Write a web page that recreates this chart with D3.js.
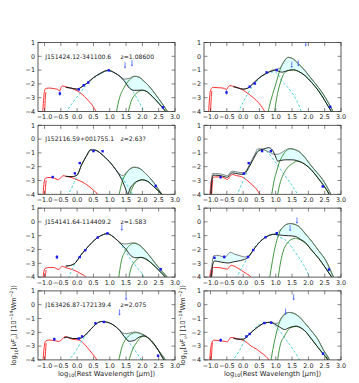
<!DOCTYPE html>
<html><head><meta charset="utf-8">
<script src="https://cdn.jsdelivr.net/npm/d3@7"></script>
<style>body{margin:0;background:#fff}svg{display:block}text{font-family:"DejaVu Sans",sans-serif;fill:#222}</style>
</head><body><svg id="c" width="359" height="383"></svg>
<script>
// ---------- data (panels in row-major order: L1,R1,L2,R2,L3,R3,L4,R4) ----------
const xTicks=[-1.0,-0.5,0.0,0.5,1.0,1.5,2.0,2.5,3.0];
const yTicks=[1,0,-1,-2,-3,-4];
const names=["J151424.12-341100.6",null,"J152116.59+001755.1",null,"J154141.64-114409.2",null,"J163426.87-172139.4",null];
const redshifts=["z=1.08600",null,"z=2.63?",null,"z=1.583",null,"z=2.075",null];

const redCurves=[
 [[-1.06,-4.2],[-1.03,-3.2],[-1.0,-2.5],[-0.95,-2.32],[-0.85,-2.3],[-0.7,-2.35],[-0.6,-2.4],[-0.53,-2.5],[-0.5,-2.3],[-0.45,-2.15],[-0.35,-2.2],[-0.2,-2.3],[0,-2.5],[0.15,-2.75],[0.3,-3.1],[0.45,-3.5],[0.6,-4.05],[0.65,-4.2]],
 [[-1.06,-4.2],[-1.03,-3.0],[-0.99,-2.4],[-0.92,-2.25],[-0.8,-2.27],[-0.62,-2.3],[-0.51,-2.4],[-0.45,-2.2],[-0.41,-2.13],[-0.26,-2.2],[-0.1,-2.33],[0,-2.45],[0.15,-2.7],[0.31,-3.0],[0.51,-3.47],[0.67,-4.05],[0.7,-4.2]],
 [[-1.05,-4.2],[-1.02,-3.3],[-0.98,-2.85],[-0.9,-2.78],[-0.75,-2.8],[-0.65,-2.88],[-0.58,-2.95],[-0.5,-2.8],[-0.43,-2.65],[-0.3,-2.72],[-0.15,-2.8],[0,-2.95],[0.15,-3.1],[0.29,-3.3],[0.5,-3.7],[0.62,-4.0],[0.66,-4.2]],
 [[-1.02,-4.2],[-0.99,-3.2],[-0.95,-2.85],[-0.85,-2.74],[-0.7,-2.74],[-0.55,-2.85],[-0.48,-2.93],[-0.4,-2.7],[-0.33,-2.56],[-0.2,-2.65],[-0.05,-2.72],[0.1,-2.95],[0.27,-3.3],[0.4,-3.6],[0.52,-4.05],[0.55,-4.2]],
 [[-1.05,-4.2],[-1.02,-3.6],[-0.97,-3.35],[-0.85,-3.3],[-0.72,-3.3],[-0.62,-3.4],[-0.56,-3.45],[-0.5,-3.3],[-0.46,-3.22],[-0.3,-3.35],[-0.15,-3.45],[0,-3.6],[0.15,-3.8],[0.3,-4.05],[0.35,-4.2]],
 [[-1.03,-4.2],[-1.0,-3.6],[-0.95,-3.35],[-0.88,-3.3],[-0.7,-3.32],[-0.55,-3.4],[-0.48,-3.42],[-0.42,-3.25],[-0.36,-3.15],[-0.2,-3.3],[-0.05,-3.52],[0.1,-3.75],[0.26,-4.05],[0.3,-4.2]],
 [[-1.05,-4.2],[-1.02,-3.3],[-0.97,-2.65],[-0.87,-2.56],[-0.7,-2.6],[-0.56,-2.66],[-0.46,-2.5],[-0.36,-2.3],[-0.25,-2.42],[-0.15,-2.5],[0.05,-2.56],[0.2,-2.8],[0.31,-3.1],[0.45,-3.5],[0.62,-4.05],[0.66,-4.2]],
 [[-1.03,-4.2],[-1.0,-3.3],[-0.95,-2.7],[-0.9,-2.57],[-0.69,-2.62],[-0.55,-2.66],[-0.48,-2.69],[-0.42,-2.48],[-0.38,-2.38],[-0.23,-2.43],[-0.02,-2.57],[0.12,-2.75],[0.24,-2.99],[0.4,-3.2],[0.55,-3.47],[0.7,-3.75],[0.8,-4.05],[0.83,-4.2]]
];
const redEdges=[
 [[-1.0,-4.2],[-0.98,-3.2],[-0.96,-2.6]],
 [[-1.0,-4.2],[-0.98,-3.1],[-0.96,-2.5]],
 [[-0.99,-4.2],[-0.97,-3.5],[-0.95,-3.0]],
 [[-0.97,-4.2],[-0.95,-3.4],[-0.93,-2.95]],
 [[-0.99,-4.2],[-0.97,-3.8],[-0.95,-3.5]],
 [[-0.98,-4.2],[-0.96,-3.8],[-0.94,-3.5]],
 [[-0.99,-4.2],[-0.97,-3.4],[-0.95,-2.8]],
 [[-0.98,-4.2],[-0.96,-3.3],[-0.94,-2.75]]
];
const cyanCurves=[
 [[-0.35,-4.1],[-0.15,-3.4],[0.08,-2.7],[0.29,-2.05],[0.5,-1.6],[0.7,-1.3],[0.95,-1.05],[1.1,-1.15],[1.31,-1.45],[1.5,-1.95],[1.72,-2.6],[1.9,-3.3],[2.08,-4.1]],
 [[-0.16,-4.1],[0.05,-3.1],[0.26,-2.26],[0.4,-1.85],[0.56,-1.49],[0.72,-1.25],[0.85,-1.15],[0.97,-1.12],[1.08,-1.35],[1.18,-1.78],[1.35,-2.2],[1.49,-2.62],[1.65,-3.25],[1.8,-4.1]],
 [[-0.3,-4.1],[-0.12,-3.3],[0,-2.65],[0.13,-1.9],[0.29,-1.2],[0.41,-0.78],[0.55,-0.8],[0.8,-1.2],[1.05,-1.8],[1.31,-2.6],[1.52,-3.3],[1.72,-4.1]],
 [[-0.2,-4.1],[0.02,-2.93],[0.15,-2.2],[0.27,-1.57],[0.38,-1.1],[0.49,-0.82],[0.6,-0.76],[0.7,-0.85],[0.88,-1.32],[1.03,-1.8],[1.18,-2.31],[1.33,-2.8],[1.48,-3.31],[1.7,-4.1]],
 [[-0.28,-4.1],[-0.1,-3.2],[0,-2.75],[0.26,-2.0],[0.45,-1.5],[0.62,-1.15],[0.8,-0.92],[0.92,-0.85],[1.05,-0.98],[1.23,-1.33],[1.45,-2.0],[1.64,-2.7],[1.85,-3.35],[2.0,-3.8],[2.07,-4.1]],
 [[-0.22,-4.1],[0,-3.15],[0.26,-2.17],[0.4,-1.7],[0.57,-1.3],[0.75,-1.0],[0.88,-0.89],[1.0,-0.95],[1.08,-1.06],[1.29,-1.3],[1.42,-1.6],[1.55,-2.04],[1.7,-2.55],[1.86,-3.15],[2.06,-4.1]],
 [[-0.28,-4.1],[0,-3.2],[0.15,-2.6],[0.31,-2.1],[0.45,-1.7],[0.62,-1.33],[0.75,-1.22],[0.85,-1.24],[1.0,-1.33],[1.13,-1.5],[1.3,-1.85],[1.44,-2.25],[1.6,-2.75],[1.74,-3.2],[2.0,-4.1]],
 [[-0.35,-4.1],[-0.12,-3.35],[0.13,-2.26],[0.3,-1.85],[0.44,-1.53],[0.6,-1.35],[0.7,-1.29],[0.85,-1.32],[0.96,-1.48],[1.1,-1.85],[1.27,-2.38],[1.4,-2.8],[1.53,-3.23],[1.75,-4.1]]
];
const greenHi=[
 [[1.2,-4.1],[1.3,-3.0],[1.42,-2.35],[1.55,-1.85],[1.65,-1.6],[1.77,-1.45],[1.9,-1.52],[2.0,-1.7],[2.2,-2.15],[2.4,-2.75],[2.6,-3.4],[2.8,-4.1]],
 [[0.76,-4.1],[0.85,-3.2],[0.95,-2.4],[1.03,-1.78],[1.1,-1.2],[1.18,-0.69],[1.28,-0.3],[1.38,-0.08],[1.5,-0.15],[1.7,-0.55],[1.9,-1.05],[2.1,-1.65],[2.31,-2.26],[2.55,-3.1],[2.77,-4.05]],
 [[1.28,-4.1],[1.38,-3.1],[1.5,-2.5],[1.62,-2.18],[1.75,-2.05],[1.9,-2.12],[2.1,-2.5],[2.35,-3.15],[2.6,-4.05]],
 [[0.87,-4.1],[0.95,-3.0],[1.03,-2.31],[1.1,-1.75],[1.18,-1.32],[1.3,-0.9],[1.43,-0.7],[1.58,-0.75],[1.74,-0.95],[1.9,-1.35],[2.09,-1.94],[2.25,-2.4],[2.44,-2.94],[2.7,-4.05]],
 [[1.27,-4.1],[1.35,-2.9],[1.49,-2.07],[1.6,-1.72],[1.74,-1.55],[1.88,-1.65],[2.05,-2.0],[2.25,-2.55],[2.46,-3.2],[2.78,-4.05]],
 [[0.81,-4.1],[0.9,-2.8],[0.98,-1.82],[1.05,-1.2],[1.13,-0.69],[1.25,-0.32],[1.44,-0.12],[1.58,-0.17],[1.7,-0.32],[1.9,-0.85],[2.11,-1.43],[2.32,-2.1],[2.53,-2.78],[2.78,-4.05]],
 [[1.27,-4.1],[1.37,-3.1],[1.54,-2.37],[1.66,-2.12],[1.8,-2.02],[1.95,-2.1],[2.15,-2.37],[2.46,-3.2],[2.72,-4.05]],
 [[0.85,-4.1],[0.93,-3.0],[1.01,-2.14],[1.08,-1.5],[1.16,-1.04],[1.28,-0.7],[1.42,-0.56],[1.55,-0.63],[1.68,-0.8],[1.9,-1.35],[2.09,-1.89],[2.3,-2.55],[2.45,-3.23],[2.66,-4.05]]
];
const greenLo=[
 [[1.56,-4.1],[1.65,-3.3],[1.75,-2.85],[1.87,-2.58],[2.0,-2.47],[2.15,-2.58],[2.3,-2.9],[2.5,-3.4],[2.75,-4.1]],
 [[0.96,-4.1],[1.03,-3.0],[1.13,-2.0],[1.2,-1.5],[1.28,-1.17],[1.4,-1.02],[1.54,-0.98],[1.7,-1.1],[1.9,-1.41],[2.1,-1.9],[2.31,-2.5],[2.5,-3.2],[2.72,-4.05]],
 [[1.6,-4.1],[1.72,-3.4],[1.85,-3.05],[2.0,-2.95],[2.15,-3.05],[2.35,-3.45],[2.6,-4.05]],
 [[1.05,-4.1],[1.12,-3.3],[1.23,-2.56],[1.35,-2.1],[1.48,-1.82],[1.64,-1.62],[1.75,-1.65],[1.89,-1.82],[2.1,-2.25],[2.29,-2.81],[2.45,-3.3],[2.65,-4.05]],
 [[1.58,-4.1],[1.66,-3.3],[1.75,-2.92],[1.85,-2.68],[1.95,-2.57],[2.1,-2.65],[2.26,-2.95],[2.5,-3.5],[2.73,-4.05]],
 [[1.07,-4.1],[1.15,-2.9],[1.24,-2.04],[1.32,-1.65],[1.39,-1.43],[1.5,-1.25],[1.6,-1.18],[1.75,-1.3],[1.91,-1.55],[2.1,-2.05],[2.32,-2.66],[2.5,-3.25],[2.73,-4.05]],
 [[1.58,-4.1],[1.69,-3.3],[1.82,-2.75],[1.95,-2.37],[2.05,-2.27],[2.2,-2.45],[2.36,-2.85],[2.5,-3.35],[2.67,-4.05]],
 [[1.05,-4.1],[1.13,-3.0],[1.27,-2.26],[1.37,-1.85],[1.47,-1.65],[1.63,-1.58],[1.75,-1.66],[1.89,-1.89],[2.1,-2.5],[2.3,-3.11],[2.45,-3.55],[2.61,-4.05]]
];
const totalHi=[
 [[-0.35,-2.25],[-0.2,-2.3],[0,-2.38],[0.15,-2.2],[0.3,-1.95],[0.5,-1.55],[0.7,-1.25],[0.95,-1.02],[1.15,-1.2],[1.31,-1.45],[1.45,-1.65],[1.6,-1.6],[1.75,-1.45],[1.9,-1.5],[2.0,-1.7],[2.2,-2.15],[2.4,-2.75],[2.6,-3.4],[2.8,-4.1]],
 [[-0.3,-2.2],[-0.15,-2.3],[0,-2.38],[0.15,-2.3],[0.26,-2.07],[0.51,-1.53],[0.72,-1.22],[0.9,-1.0],[1.03,-0.93],[1.13,-0.85],[1.2,-0.6],[1.28,-0.27],[1.38,-0.07],[1.5,-0.14],[1.7,-0.55],[1.9,-1.05],[2.1,-1.65],[2.31,-2.26],[2.55,-3.1],[2.77,-4.05],[2.85,-4.3]],
 [[-0.35,-2.7],[-0.15,-2.72],[0,-2.6],[0.13,-1.9],[0.29,-1.2],[0.41,-0.78],[0.55,-0.8],[0.8,-1.2],[1.05,-1.8],[1.25,-2.4],[1.4,-2.65],[1.5,-2.42],[1.62,-2.15],[1.75,-2.03],[1.9,-2.1],[2.1,-2.5],[2.35,-3.15],[2.6,-4.0],[2.7,-4.3]],
 [[-1.0,-4.3],[-0.97,-3.0],[-0.93,-2.5],[-0.85,-2.5],[-0.7,-2.52],[-0.55,-2.62],[-0.48,-2.65],[-0.4,-2.42],[-0.33,-2.33],[-0.15,-2.4],[0.02,-2.45],[0.15,-2.05],[0.27,-1.5],[0.38,-1.0],[0.44,-0.72],[0.52,-0.7],[0.65,-0.78],[0.8,-0.95],[0.95,-1.1],[1.05,-1.1],[1.18,-0.98],[1.3,-0.8],[1.43,-0.68],[1.6,-0.78],[1.74,-0.95],[1.9,-1.35],[2.09,-1.94],[2.44,-2.94],[2.7,-4.05],[2.75,-4.3]],
 [[-0.35,-3.2],[-0.2,-3.15],[-0.05,-2.95],[0.1,-2.45],[0.26,-2.0],[0.45,-1.5],[0.62,-1.15],[0.8,-0.92],[0.92,-0.85],[1.05,-0.98],[1.23,-1.33],[1.35,-1.55],[1.5,-1.6],[1.62,-1.55],[1.74,-1.52],[1.9,-1.65],[2.05,-1.98],[2.25,-2.55],[2.46,-3.2],[2.78,-4.05],[2.85,-4.3]],
 [[-0.99,-4.3],[-0.95,-3.0],[-0.9,-2.45],[-0.8,-2.42],[-0.65,-2.5],[-0.55,-2.55],[-0.45,-2.3],[-0.4,-2.2],[-0.25,-2.35],[-0.1,-2.45],[0.05,-2.55],[0.18,-2.45],[0.31,-2.04],[0.52,-1.43],[0.77,-1.01],[0.93,-0.9],[1.03,-0.82],[1.13,-0.62],[1.25,-0.3],[1.44,-0.12],[1.6,-0.2],[1.7,-0.32],[1.9,-0.82],[2.11,-1.43],[2.32,-2.1],[2.53,-2.78],[2.78,-4.05],[2.85,-4.3]],
 [[-0.4,-2.4],[-0.3,-2.35],[-0.15,-2.45],[0.05,-2.45],[0.2,-2.3],[0.31,-2.05],[0.45,-1.7],[0.62,-1.33],[0.75,-1.22],[0.85,-1.24],[1.0,-1.33],[1.13,-1.5],[1.3,-1.85],[1.4,-2.05],[1.5,-2.1],[1.62,-2.05],[1.78,-1.98],[1.95,-2.08],[2.15,-2.35],[2.46,-3.2],[2.72,-4.05],[2.8,-4.3]],
 [[-0.3,-2.42],[-0.15,-2.5],[0,-2.5],[0.1,-2.35],[0.19,-2.14],[0.39,-1.72],[0.55,-1.45],[0.65,-1.33],[0.86,-1.27],[0.96,-1.35],[1.06,-1.35],[1.16,-1.0],[1.3,-0.62],[1.42,-0.56],[1.55,-0.62],[1.68,-0.8],[1.9,-1.35],[2.09,-1.89],[2.3,-2.55],[2.45,-3.23],[2.66,-4.05],[2.7,-4.3]]
];
const totalLo=[
 [[-0.35,-2.25],[-0.2,-2.3],[0,-2.38],[0.15,-2.2],[0.3,-1.95],[0.5,-1.55],[0.7,-1.25],[0.95,-1.02],[1.15,-1.2],[1.31,-1.45],[1.45,-1.8],[1.6,-2.3],[1.75,-2.47],[2.0,-2.45],[2.15,-2.58],[2.3,-2.9],[2.5,-3.4],[2.75,-4.1]],
 [[-0.3,-2.2],[-0.15,-2.3],[0,-2.38],[0.15,-2.3],[0.26,-2.07],[0.51,-1.53],[0.72,-1.22],[0.9,-1.05],[1.0,-1.0],[1.1,-1.1],[1.2,-1.15],[1.3,-1.08],[1.54,-0.98],[1.7,-1.1],[1.9,-1.41],[2.1,-1.9],[2.31,-2.5],[2.5,-3.2],[2.72,-4.05],[2.8,-4.3]],
 [[-0.35,-2.7],[-0.15,-2.72],[0,-2.6],[0.13,-1.9],[0.29,-1.2],[0.41,-0.78],[0.55,-0.8],[0.8,-1.2],[1.05,-1.8],[1.25,-2.45],[1.4,-3.1],[1.5,-3.7],[1.55,-4.0],[1.62,-3.6],[1.75,-3.2],[1.9,-3.0],[2.0,-2.95],[2.15,-3.05],[2.35,-3.45],[2.6,-4.0],[2.7,-4.3]],
 [[-0.99,-4.3],[-0.96,-3.1],[-0.92,-2.62],[-0.85,-2.62],[-0.7,-2.64],[-0.55,-2.74],[-0.48,-2.77],[-0.4,-2.55],[-0.33,-2.45],[-0.15,-2.52],[0.02,-2.56],[0.15,-2.15],[0.27,-1.65],[0.38,-1.15],[0.47,-0.85],[0.58,-0.75],[0.68,-0.68],[0.78,-0.62],[0.9,-0.8],[1.0,-1.3],[1.06,-1.6],[1.15,-1.55],[1.3,-1.5],[1.48,-1.5],[1.64,-1.55],[1.89,-1.82],[2.1,-2.25],[2.29,-2.81],[2.45,-3.3],[2.65,-4.05],[2.7,-4.3]],
 [[-0.35,-3.2],[-0.2,-3.15],[-0.05,-2.95],[0.1,-2.45],[0.26,-2.0],[0.45,-1.5],[0.62,-1.15],[0.8,-0.92],[0.92,-0.85],[1.05,-0.98],[1.23,-1.33],[1.35,-1.6],[1.5,-2.0],[1.65,-2.45],[1.8,-2.6],[1.95,-2.57],[2.1,-2.7],[2.26,-2.95],[2.5,-3.5],[2.72,-4.05],[2.8,-4.3]],
 [[-0.98,-4.3],[-0.94,-3.2],[-0.88,-2.83],[-0.7,-2.9],[-0.46,-2.98],[-0.3,-2.9],[-0.15,-2.83],[0.1,-2.66],[0.18,-2.5],[0.31,-2.04],[0.52,-1.43],[0.77,-1.01],[0.93,-0.9],[1.08,-0.94],[1.24,-0.98],[1.39,-1.0],[1.6,-1.05],[1.75,-1.25],[1.91,-1.5],[2.1,-2.05],[2.32,-2.66],[2.5,-3.25],[2.73,-4.05],[2.8,-4.3]],
 [[-0.4,-2.4],[-0.3,-2.35],[-0.15,-2.45],[0.05,-2.45],[0.2,-2.3],[0.31,-2.05],[0.45,-1.7],[0.62,-1.33],[0.75,-1.22],[0.85,-1.24],[1.0,-1.33],[1.13,-1.5],[1.3,-1.85],[1.44,-2.3],[1.6,-2.65],[1.74,-2.6],[1.9,-2.35],[2.05,-2.26],[2.2,-2.45],[2.36,-2.85],[2.5,-3.35],[2.67,-4.05],[2.75,-4.3]],
 [[-0.3,-2.42],[-0.15,-2.5],[0,-2.5],[0.1,-2.35],[0.19,-2.14],[0.39,-1.72],[0.55,-1.45],[0.65,-1.33],[0.86,-1.27],[0.96,-1.4],[1.06,-1.53],[1.17,-1.7],[1.27,-1.8],[1.4,-1.68],[1.5,-1.6],[1.63,-1.55],[1.75,-1.65],[1.89,-1.89],[2.1,-2.5],[2.3,-3.11],[2.45,-3.55],[2.61,-4.05],[2.65,-4.3]]
];
// photometry: [x, y, error]
const points=[
 [[-0.53,-2.7,0.15],[0.05,-2.4,0.05],[0.2,-2.1,0.05],[0.34,-1.9,0.05],[0.97,-1.02,0.05],[2.63,-3.7,0.1]],
 [[-0.51,-2.62,0.15],[0.2,-2.2,0.05],[0.36,-1.97,0.05],[0.72,-1.17,0.05],[1.03,-1.0,0.05],[2.67,-3.67,0.1]],
 [[-0.75,-2.75,0.08],[-0.07,-2.48,0.05],[0.08,-1.74,0.05],[0.5,-0.87,0.05],[0.78,-0.88,0.05],[2.41,-3.4,0.1]],
 [[-0.69,-2.76,0.08],[0.02,-2.49,0.05],[0.17,-1.74,0.05],[0.58,-0.87,0.05],[0.85,-0.87,0.05],[2.44,-3.43,0.1]],
 [[-0.62,-2.55,0.15],[0.08,-2.55,0.05],[0.25,-2.05,0.05],[0.63,-1.13,0.05],[0.93,-0.83,0.05],[2.56,-3.43,0.1]],
 [[-0.88,-2.6,0.08],[-0.58,-2.54,0.12],[0.15,-2.54,0.05],[0.31,-2.04,0.05],[0.69,-1.11,0.05],[1.03,-0.82,0.05],[2.63,-3.45,0.1]],
 [[-0.7,-2.5,0.12],[0.05,-2.45,0.05],[0.15,-2.3,0.05],[0.56,-1.35,0.05],[0.82,-1.25,0.05],[2.48,-3.7,0.1]],
 [[-0.69,-2.57,0.12],[0.1,-2.3,0.05],[0.2,-2.12,0.05],[0.65,-1.33,0.05],[0.86,-1.3,0.05],[2.45,-3.55,0.1]]
];
// upper limits: [x, y]
const limits=[
 [[1.47,-0.65],[1.68,-0.5]],
 [[1.49,-0.61],[1.69,-0.5],[1.92,0.95]],
 [],
 [],
 [[1.37,-0.4]],
 [[1.44,-0.44],[1.65,0.1]],
 [[1.3,-0.55],[1.5,0.55]],
 [[1.3,-0.5],[1.55,0.55]]
];

// ---------- layout ----------
const svg=d3.select("#c");
const colX=[38,204], W=137, H=69, rowTop=r=>42.5+r*82.8;
const FS=6.4;
const fmtX=d=>(d<0?"\u2212":"")+Math.abs(d).toFixed(1);
const fmtY=d=>(d<0?"\u2212":"")+Math.abs(d);

for(let i=0;i<8;i++){
  const r=Math.floor(i/2), c=i%2;
  const x0=colX[c], y0=rowTop(r);
  const xs=d3.scaleLinear().domain([-1.2,3.0]).range([x0,x0+W]);
  const ys=d3.scaleLinear().domain([-4,1]).range([y0+H,y0]);
  const g=svg.append("g");
  const cid="clip"+i;
  svg.append("clipPath").attr("id",cid).append("rect").attr("x",x0).attr("y",y0).attr("width",W).attr("height",H);
  const pg=g.append("g").attr("clip-path",`url(#${cid})`);
  const line=d3.line().x(d=>xs(d[0])).y(d=>ys(d[1])).curve(d3.curveMonotoneX);
  const fillPoly=(a,b)=>line(a)+line(b.slice().reverse()).replace(/^M/,"L")+"Z";

  // fill between the two total-model curves
  pg.append("path").attr("d",fillPoly(totalHi[i],totalLo[i])).attr("fill","#e0ffff").attr("stroke","none");

  pg.append("path").attr("d",line(redCurves[i])).attr("fill","none").attr("stroke","#ff1a1a").attr("stroke-width",0.9);
  pg.append("path").attr("d",line(redEdges[i])).attr("fill","none").attr("stroke","#ff1a1a").attr("stroke-width",0.9);
  pg.append("path").attr("d",line(cyanCurves[i])).attr("fill","none").attr("stroke","#33cccc").attr("stroke-width",0.9).attr("stroke-dasharray","2.5,2");
  pg.append("path").attr("d",line(greenHi[i])).attr("fill","none").attr("stroke","#2e8b2e").attr("stroke-width",0.9);
  pg.append("path").attr("d",line(greenLo[i])).attr("fill","none").attr("stroke","#2e8b2e").attr("stroke-width",0.9);
  pg.append("path").attr("d",line(totalHi[i])).attr("fill","none").attr("stroke","#707070").attr("stroke-width",0.9);
  pg.append("path").attr("d",line(totalLo[i])).attr("fill","none").attr("stroke","#111").attr("stroke-width",0.9);

  // photometry
  const pts=pg.append("g");
  points[i].forEach(p=>{
    pts.append("line").attr("x1",xs(p[0])).attr("x2",xs(p[0])).attr("y1",ys(p[1]+p[2])).attr("y2",ys(p[1]-p[2])).attr("stroke","#2233ee").attr("stroke-width",0.8);
    pts.append("rect").attr("x",xs(p[0])-1.2).attr("y",ys(p[1])-1.2).attr("width",2.4).attr("height",2.4).attr("fill","#1a1aee");
  });
  limits[i].forEach(p=>{
    const px=xs(p[0]), py=ys(p[1]);
    pts.append("line").attr("x1",px).attr("x2",px).attr("y1",py-3).attr("y2",py+2).attr("stroke","#4466ff").attr("stroke-width",0.8);
    pts.append("path").attr("d",`M${px-1.2},${py+1.5}L${px+1.2},${py+1.5}L${px},${py+3.3}Z`).attr("fill","#4466ff");
  });

  // frame and ticks
  g.append("rect").attr("x",x0).attr("y",y0).attr("width",W).attr("height",H).attr("fill","none").attr("stroke","#333").attr("stroke-width",0.8);
  const tk=g.append("g").attr("stroke","#333").attr("stroke-width",0.6);
  xTicks.forEach(t=>{
    const x=xs(t);
    tk.append("line").attr("x1",x).attr("x2",x).attr("y1",y0+H).attr("y2",y0+H-3.5);
    tk.append("line").attr("x1",x).attr("x2",x).attr("y1",y0).attr("y2",y0+3.5);
    g.append("text").attr("x",x).attr("y",y0+H+7.6).attr("text-anchor","middle").attr("font-size",FS).text(fmtX(t));
  });
  yTicks.forEach(t=>{
    const y=ys(t);
    tk.append("line").attr("x1",x0).attr("x2",x0+3.5).attr("y1",y).attr("y2",y);
    tk.append("line").attr("x1",x0+W).attr("x2",x0+W-3.5).attr("y1",y).attr("y2",y);
    g.append("text").attr("x",x0-3).attr("y",y+2.3).attr("text-anchor","end").attr("font-size",FS).text(fmtY(t));
  });

  if(names[i]){
    g.append("text").attr("x",xs(-0.98)).attr("y",ys(0)+2.3).attr("font-size",6.1).text(names[i]);
    g.append("text").attr("x",xs(1.33)).attr("y",ys(0)+2.3).attr("font-size",6.1).text(redshifts[i]);
  }

  if(r===3){
    // x label
    const xl=g.append("text").attr("x",x0+W/2).attr("y",375.5).attr("text-anchor","middle").attr("font-size",6.8);
    xl.append("tspan").text("log");
    xl.append("tspan").attr("font-size",4.6).attr("dy",1.6).text("10");
    xl.append("tspan").attr("dy",-1.6).text("(Rest Wavelength [");
    xl.append("tspan").attr("font-style","italic").text("\u03bc");
    xl.append("tspan").text("m])");
    // y label
    const cx=c===0?16:185, cy=y0+H/2;
    const yl=g.append("text").attr("transform",`translate(${cx},${cy}) rotate(-90)`).attr("text-anchor","middle").attr("font-size",6.8);
    yl.append("tspan").text("log");
    yl.append("tspan").attr("font-size",4.6).attr("dy",1.6).text("10");
    yl.append("tspan").attr("dy",-1.6).text("[");
    yl.append("tspan").attr("font-style","italic").text("\u03bdF");
    yl.append("tspan").attr("font-size",4.6).attr("font-style","italic").attr("dy",1.6).text("\u03bd");
    yl.append("tspan").attr("dy",-1.6).text("] [10");
    yl.append("tspan").attr("font-size",4.6).attr("dy",-2.8).text("\u221214");
    yl.append("tspan").attr("dy",2.8).text("Wm");
    yl.append("tspan").attr("font-size",4.6).attr("dy",-2.8).text("\u22122");
    yl.append("tspan").attr("dy",2.8).text("])");
  }
}
</script></body></html>
